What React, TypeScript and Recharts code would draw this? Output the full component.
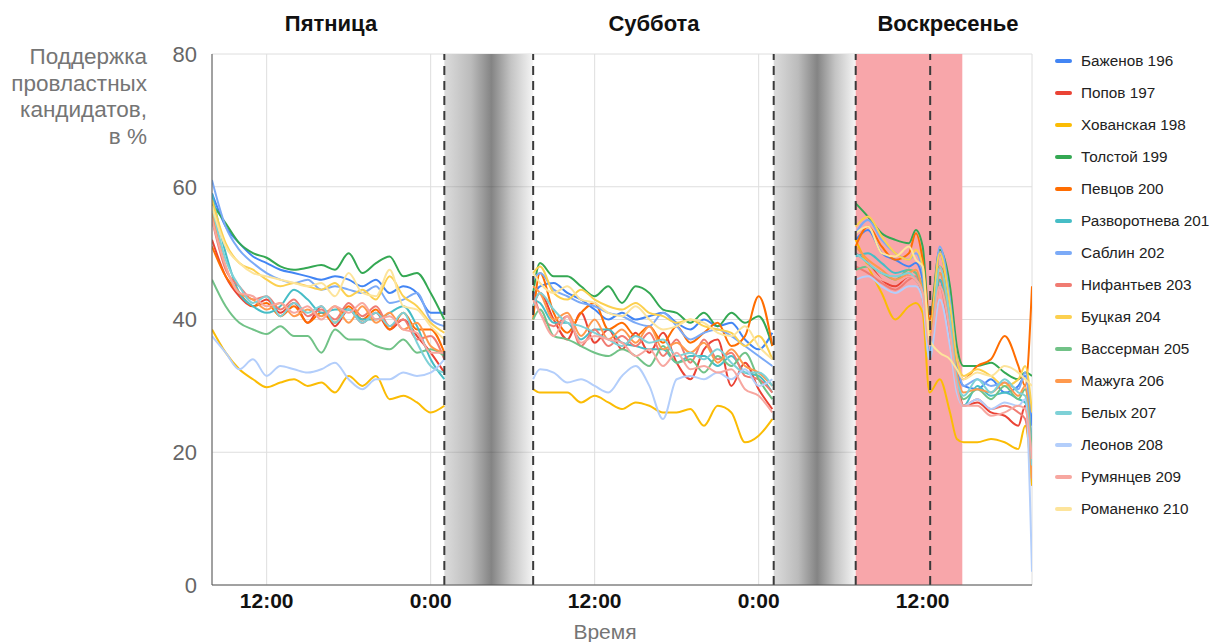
import React from 'react';
import {
  LineChart,
  Line,
  XAxis,
  YAxis,
  CartesianGrid,
  ReferenceArea,
  ReferenceLine,
  Legend,
} from 'recharts';

// hours since Friday 00:00; 28 and 52 are break rows (night, no data)
const HOURS = [
  8, 9, 10, 11, 12, 13, 14, 15, 16, 17, 18, 19, 20, 21, 22, 23, 24, 25,
  28,
  31.5, 32, 33, 34, 35, 36, 37, 38, 39, 40, 41, 42, 43, 44, 45, 46, 47, 48, 49,
  52,
  55.1, 56, 57, 58, 59, 59.5, 60, 60.5, 61.25, 62, 62.5, 63, 64, 65, 66, 67, 67.5, 68,
];

const X_TICKS = [12, 24, 36, 48, 60];
const X_TICK_LABELS = ['12:00', '0:00', '12:00', '0:00', '12:00'];
const Y_TICKS = [0, 20, 40, 60, 80];
const DAY_TITLES = ['Пятница', 'Суббота', 'Воскресенье'];
const Y_TITLE = ['Поддержка', 'провластных', 'кандидатов,', 'в %'];
const X_TITLE = 'Время';
const NIGHTS = [
  [25, 31.5],
  [49.1, 55.1],
];
const RED_ZONE = [55.1, 62.9];
const DASHED = [25, 31.5, 49.1, 55.1, 60.55];

const NAMES = [
  'Баженов 196',
  'Попов 197',
  'Хованская 198',
  'Толстой 199',
  'Певцов 200',
  'Разворотнева 201',
  'Саблин 202',
  'Нифантьев 203',
  'Буцкая 204',
  'Вассерман 205',
  'Мажуга 206',
  'Белых 207',
  'Леонов 208',
  'Румянцев 209',
  'Романенко 210',
];

const COLORS = [
  '#4285F4', '#EA4335', '#FBBC04', '#34A853', '#FF6D01',
  '#46BDC6', '#7BAAF7', '#F07B72', '#FCD04F', '#71C287',
  '#FF994D', '#7ED1D7', '#B3CEFB', '#F7A7A0', '#FDE49B',
];

const BAZHENOV = [
  59, 54, 51.5, 49.5, 48.5, 47.5, 47, 46.5, 46, 46.5, 46, 45, 46, 44, 45, 44, 41, 41,
  null,
  43.5, 45, 45.5, 44, 43, 41.5, 40, 41, 40, 40.5, 41, 39.5, 38.5, 40, 39, 39.5, 37, 35.5, 38,
  null,
  52, 53.5, 50, 49, 48, 48.5, 46, 35, 50, 42, 33, 30, 29.5, 31, 29, 30, 31.5, 24,
];
const POPOV = [
  52, 46.5, 43.5, 42, 43, 41, 42.5, 39.5, 42, 39, 41.5, 39.5, 41, 38.5, 40, 37.5, 35, 32,
  null,
  42, 44, 40, 37, 41, 36.5, 38.5, 35.5, 38, 35, 38, 33.5, 31, 35.5, 37, 30, 33.5, 29.5, 26.5,
  null,
  50, 48.5, 46, 45, 46.5, 46, 44, 38, 46, 38, 31, 27, 27.5, 26, 25.5, 24, 27, 15,
];
const KHOVANSKAYA = [
  38.5, 35, 32.5, 31, 29.8, 30.5, 31, 30, 30.5, 29, 31.5, 30, 31.5, 28, 28.5, 27.5, 26, 27,
  null,
  29.5, 29, 29, 29, 27.5, 28.5, 27.5, 26.5, 27.5, 27, 26, 26, 26.5, 24, 27, 26, 21.5, 22.5, 25,
  null,
  52, 48, 44, 40, 42, 42.5, 41, 29, 31, 26, 22, 21.5, 21.5, 22, 21.5, 20.5, 24, 15,
];
const TOLSTOY = [
  57.5, 54.5, 51.5, 50, 49.3, 48, 47.5, 47.8, 48.2, 47.5, 50, 47, 48.5, 49.5, 46.5, 47, 44, 40,
  null,
  44, 48.5, 46.5, 46.5, 45, 43.5, 45, 42.5, 45, 44, 41.5, 41, 39.5, 41, 39, 41, 39.5, 40.5, 36,
  null,
  57.5, 55.5, 53, 52, 51.5, 53.5, 51, 40, 50.5, 45, 36, 33, 33, 33.5, 32, 31, 32, 31.5,
];
const PEVTSOV = [
  51, 46.5, 44, 42, 42.5, 40.5, 42, 39.5, 41, 39.5, 42, 40, 41.5, 38.5, 41, 38.5, 38.5, 35,
  null,
  40, 47, 41, 38, 41, 42.5, 38.5, 39.5, 37.5, 39, 36.5, 39, 36.5, 38, 39.5, 36, 37.5, 43.5, 36,
  null,
  51, 54, 51, 49, 50, 53, 49, 40, 48, 42, 34, 31, 33, 34, 37.5, 33, 30, 45,
];
const RAZVOROTNEVA = [
  59, 50, 44, 42, 41, 42, 44.5, 43, 41, 41.5, 41.5, 40, 40, 41, 42, 39, 34, 31,
  null,
  43, 42.5, 39.5, 39.5, 37, 38.5, 38.5, 36.5, 36, 35.5, 35.5, 33.5, 34.5, 34.5, 33, 34.5, 32, 31.5, 29,
  null,
  49.5, 50, 48.5, 47, 47.5, 47, 45, 36, 46, 38, 30, 27, 30, 28.5, 29, 28, 27.5, 22,
];
const SABLIN = [
  61, 54, 50.5, 48.5, 47, 46, 45.5, 46, 44.5, 45, 44.5, 44, 45, 42.5, 43, 44, 40, 39,
  null,
  46, 47, 44.5, 43.5, 42.5, 42, 41, 40.5, 39.5, 39, 41, 39, 37, 38, 38.5, 37.5, 36, 34.5, 33,
  null,
  53, 55, 52, 50, 49, 50, 47, 36, 51, 43, 34, 30, 31, 30, 30.5, 29.5, 32, 20,
];
const NIFANTYEV = [
  55, 47.5, 45, 43, 43.5, 41.5, 43, 40.5, 41.5, 40, 42.5, 40.5, 42, 39, 40, 37, 37.5, 34,
  null,
  44, 41, 39, 40.5, 36, 38.5, 36, 37.5, 36, 38, 34.5, 37, 33.5, 37, 34, 35, 31.5, 31, 29,
  null,
  48, 47, 45.5, 44.5, 46, 46.5, 43, 36, 45, 37, 30, 27, 28, 26.5, 27, 26, 25, 17,
];
const BUTSKAYA = [
  58, 51.5, 48.5, 47.5, 46, 45, 45.5, 45, 44.5, 45.5, 43.5, 44.5, 43, 46.5, 43.5, 42, 39.5, 38,
  null,
  47, 48, 44, 43, 44.5, 43, 42, 41.5, 42.5, 41, 40.5, 39.5, 40, 39, 38.5, 38, 36, 37.5, 34,
  null,
  54, 55.5, 52.5, 50, 49, 50.5, 48, 38, 50, 42, 34, 31.5, 32.5, 31.5, 30, 31, 33, 26,
];
const VASSERMAN = [
  46, 42, 39.5, 38.5, 37.8, 39, 37.5, 37.5, 35, 38.5, 37, 37, 36, 35.5, 37, 35, 35.5, 34.5,
  null,
  40, 41.5, 37.5, 37, 36, 35, 34.5, 35.5, 34.5, 33, 36, 33.5, 34, 32, 34.5, 33, 35, 31, 28,
  null,
  47.5, 48, 47, 46, 47.5, 47, 44, 36, 47, 39, 31, 28, 29.5, 28, 30, 28, 29.5, 20,
];
const MAZHUGA = [
  56, 48, 44, 43, 41.5, 42.5, 40.5, 41.5, 40.5, 42, 39.5, 42, 39.5, 41, 38.5, 39.5, 36, 35,
  null,
  45, 44, 40, 41, 37.5, 40, 37, 38.5, 36.5, 39, 35.5, 36.5, 35, 36.5, 33.5, 35.5, 33, 32, 30,
  null,
  51, 49, 47.5, 46, 47, 47.5, 44, 37, 47, 40, 32, 29, 29.5, 29, 30.5, 28.5, 30, 16,
];
const BELYKH = [
  57, 49, 45, 42.5, 43.5, 40.5, 42.5, 41, 42, 39.5, 41.5, 39.5, 41, 39, 41, 36.5, 33, 32,
  null,
  42, 44, 41.5, 39.5, 39, 38, 37, 36, 37.5, 36.5, 37, 34.5, 35, 34, 35.5, 33.5, 32, 32, 30,
  null,
  50, 48.5, 47, 46.5, 47, 46, 44, 34, 48, 40, 31, 28.5, 31, 29, 31, 29, 28.5, 18,
];
const LEONOV = [
  37.5, 35, 32.5, 34, 31.5, 33, 32.5, 32, 32.5, 33.5, 31, 29.5, 31, 31, 32, 31.5, 32, 34,
  null,
  31, 32.5, 32, 30.5, 31, 30, 29, 31.5, 33, 30, 25, 31, 31.5, 31, 32, 31, 32.5, 30, 31,
  null,
  46, 46.5, 45, 44, 45, 45, 43, 34, 43, 36, 29, 27, 28, 26.5, 27.5, 27, 28, 2,
];
const RUMYANTSEV = [
  55, 48, 44, 43.5, 42, 42.5, 41, 42, 40, 42, 41, 42.5, 40, 40.5, 38.5, 38, 35, 35,
  null,
  43, 41, 37.5, 40.5, 36.5, 37.5, 37, 36.5, 34.5, 35.5, 33, 35, 32.5, 33, 32, 32.5, 29.5, 28.5, 26,
  null,
  49, 48, 46, 45.5, 46.5, 46, 44, 36, 45, 38, 30, 27, 27, 25.5, 26, 27, 26.5, 19,
];
const ROMANENKO = [
  57, 51, 48.5, 47, 46.5, 46, 45.5, 45, 45.5, 43.5, 47, 44, 43.5, 47.5, 42, 41.5, 39, 37,
  null,
  47, 45.5, 44, 45, 43, 42.5, 41, 40.5, 42, 40, 38.5, 39, 40, 39.5, 38, 37.5, 39, 36, 34,
  null,
  53, 54, 50, 49.5, 51, 49, 48, 37, 35, 34, 32.5, 31, 32, 31.5, 33, 32, 31, 30,
];

const VALUES = [
  BAZHENOV, POPOV, KHOVANSKAYA, TOLSTOY, PEVTSOV,
  RAZVOROTNEVA, SABLIN, NIFANTYEV, BUTSKAYA, VASSERMAN,
  MAZHUGA, BELYKH, LEONOV, RUMYANTSEV, ROMANENKO,
];

const rows = HOURS.map((h, i) => {
  const r: Record<string, number | null> = { h };
  VALUES.forEach((arr, k) => {
    r['s' + k] = arr[i] as number | null;
  });
  return r;
});

const FONT = '"Liberation Sans", Arial, Helvetica, sans-serif';

const LegendBox = () => (
  <div style={{ width: 170, fontFamily: FONT }}>
    {NAMES.map((n, i) => (
      <div key={n} style={{ height: 32, display: 'flex', alignItems: 'center' }}>
        <span
          style={{
            display: 'inline-block',
            width: 17,
            height: 4,
            borderRadius: 2,
            background: COLORS[i],
          }}
        />
        <span style={{ marginLeft: 9, fontSize: 15.3, color: '#222', whiteSpace: 'nowrap' }}>{n}</span>
      </div>
    ))}
  </div>
);

export default function App() {
  const titleCenters = [323, 646, 940];
  return (
    <div style={{ position: 'relative', width: 1212, height: 634, fontFamily: FONT }}>
      <LineChart
        width={1212}
        height={634}
        data={rows}
        margin={{ top: 46, right: 18, bottom: 27, left: 144 }}
      >
        <defs>
          <linearGradient id="nightGrad" x1="0" y1="0" x2="1" y2="0">
            <stop offset="0" stopColor="#dcdcdc" />
            <stop offset="0.3" stopColor="#bbbbbb" />
            <stop offset="0.53" stopColor="#848484" />
            <stop offset="0.75" stopColor="#c4c4c4" />
            <stop offset="1" stopColor="#f5f5f5" />
          </linearGradient>
        </defs>
        <CartesianGrid stroke="#dedede" />
        <XAxis
          dataKey="h"
          type="number"
          domain={[8, 68]}
          ticks={X_TICKS}
          tickFormatter={(v: number) => X_TICK_LABELS[X_TICKS.indexOf(v)]}
          tickLine={false}
          tickSize={0}
          tickMargin={8}
          height={30}
          axisLine={{ stroke: '#555', strokeWidth: 1 }}
          tick={{ fill: '#111', fontSize: 21, fontWeight: 700 }}
          allowDataOverflow
        />
        <YAxis
          type="number"
          domain={[0, 80]}
          ticks={Y_TICKS}
          width={60}
          tickLine={false}
          tickSize={0}
          tickMargin={15}
          axisLine={{ stroke: '#555', strokeWidth: 1 }}
          tick={{ fill: '#666', fontSize: 22 }}
        />
        {NIGHTS.map(([a, b]) => (
          <ReferenceArea
            key={'n' + a}
            x1={a}
            x2={b}
            y1={0}
            y2={80}
            fill="url(#nightGrad)"
            fillOpacity={1}
            stroke="none"
          />
        ))}
        <ReferenceArea
          x1={RED_ZONE[0]}
          x2={RED_ZONE[1]}
          y1={0}
          y2={80}
          fill="#F8A6AA"
          fillOpacity={1}
          stroke="none"
        />
        {NIGHTS.flatMap(([a, b]) =>
          [20, 40, 60].map((y) => (
            <ReferenceLine
              key={'g' + a + '-' + y}
              segment={[
                { x: a, y },
                { x: b, y },
              ]}
              stroke="rgba(0,0,0,0.1)"
              strokeWidth={1}
            />
          ))
        )}
        {NAMES.map((n, k) => (
          <Line
            key={n}
            name={n}
            dataKey={'s' + k}
            type="monotone"
            stroke={COLORS[k]}
            strokeWidth={2}
            dot={false}
            activeDot={false}
            connectNulls={false}
            isAnimationActive={false}
          />
        ))}
        {DASHED.map((x) => (
          <ReferenceLine
            key={'d' + x}
            x={x}
            stroke="#3a3a3a"
            strokeWidth={2}
            strokeDasharray="9 6"
          />
        ))}
        <Legend
          layout="vertical"
          align="right"
          verticalAlign="top"
          width={170}
          content={() => <LegendBox />}
          wrapperStyle={{ left: 1047, top: 37, right: 'auto', width: 170 }}
        />
      </LineChart>

      {DAY_TITLES.map((t, i) => (
        <div
          key={t}
          style={{
            position: 'absolute',
            left: titleCenters[i] - 120,
            width: 240,
            top: 3,
            textAlign: 'center',
            fontSize: 22,
            lineHeight: '26px',
            fontWeight: 700,
            color: '#111',
          }}
        >
          {t}
        </div>
      ))}

      <div
        style={{
          position: 'absolute',
          right: 1212 - 139,
          top: 36,
          textAlign: 'right',
          fontSize: 22.5,
          lineHeight: '26.7px',
          color: '#757575',
          whiteSpace: 'nowrap',
        }}
      >
        {Y_TITLE.map((l) => (
          <div key={l}>{l}</div>
        ))}
      </div>

      <div
        style={{
          position: 'absolute',
          left: 597 - 60,
          width: 120,
          top: 612,
          textAlign: 'center',
          fontSize: 21,
          lineHeight: '24px',
          color: '#757575',
        }}
      >
        {X_TITLE}
      </div>
    </div>
  );
}
